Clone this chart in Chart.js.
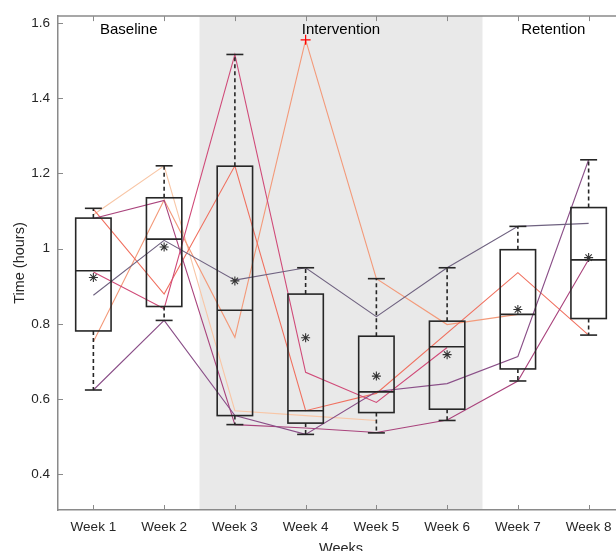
<!DOCTYPE html>
<html>
<head>
<meta charset="utf-8">
<script src="https://cdn.jsdelivr.net/npm/chart.js@4.4.0/dist/chart.umd.min.js"></script>
<style>
  html, body { margin: 0; padding: 0; background: #fff; overflow: hidden; }
  canvas { display: block; }
</style>
</head>
<body>
<canvas id="myChart" width="640" height="560"></canvas>
<script>
const weeks = ['Week 1', 'Week 2', 'Week 3', 'Week 4', 'Week 5', 'Week 6', 'Week 7', 'Week 8']
const weekPos = [1, 2, 3, 4, 5, 6, 7, 8]
const yTicks = [0.4, 0.6, 0.8, 1, 1.2, 1.4, 1.6]

// box statistics per week
const boxMin = [0.624, 0.809, 0.532, 0.506, 0.510, 0.543, 0.648, 0.770]
const boxQ1 = [0.781, 0.846, 0.556, 0.536, 0.564, 0.573, 0.680, 0.814]
const boxMedian = [0.941, 1.025, 0.836, 0.569, 0.619, 0.739, 0.825, 0.970]
const boxQ3 = [1.081, 1.135, 1.219, 0.879, 0.767, 0.807, 0.997, 1.109]
const boxMax = [1.107, 1.220, 1.516, 0.949, 0.920, 0.949, 1.059, 1.236]
const meanVals = [0.923, 1.004, 0.914, 0.763, 0.661, 0.718, 0.838, 0.976]
const outlierWeeks = [4]
const outlierVals = [1.555]

// individual subjects
const subj1 = [0.876, 1.022, 0.916, 0.949, 0.819, 0.949, 1.059, 1.067]
const subj2 = [0.624, 0.809, 0.556, 0.506, 0.620, 0.641, 0.713, 1.236]
const subj3 = [1.080, 1.128, 0.532, 0.523, 0.511, 0.544, 0.648, 0.971]
const subj4 = [0.938, 0.840, 1.516, 0.671, 0.591, 0.737, null, null]
const subj5 = [1.105, 0.879, 1.220, 0.569, 0.615, null, 0.936, 0.770]
const subj6 = [0.752, 1.129, 0.764, 1.555, 0.920, 0.798, 0.825, null]
const subj7 = [1.090, 1.220, 0.569, 0.556, 0.543, null, null, null]
const subjects = [subj1, subj2, subj3, subj4, subj5, subj6, subj7]
const subjColors = ['#6f6280', '#8a4f88', '#a9437c', '#d04a78', '#f0705f', '#f39a7a', '#f8c6a6']

// study phases
const phaseNames = ['Baseline', 'Intervention', 'Retention']
const phaseCenters = [1.5, 4.5, 7.5]
const shadeFrom = 2.5
const shadeTo = 6.5
const phaseLabelY = 1.582

const FONT = '"Liberation Sans", Arial, Helvetica, sans-serif'
const boxHalf = 0.25
const capHalf = 0.12
const axisColor = '#8a8a8a'

const meanIndex = subjects.length

const shadePlugin = {
    id: 'shade',
    beforeDraw(chart) {
        const { ctx, chartArea, scales: { x } } = chart
        ctx.save()
        ctx.fillStyle = '#e9e9e9'
        const x0 = x.getPixelForValue(shadeFrom)
        const x1 = x.getPixelForValue(shadeTo)
        ctx.fillRect(x0, chartArea.top, x1 - x0, chartArea.bottom - chartArea.top)
        ctx.restore()
    }
}

const boxPlugin = {
    id: 'boxes',
    beforeDatasetDraw(chart, args) {
        if (args.index !== meanIndex) return
        const { ctx, scales: { x, y } } = chart
        const seg = (x0, y0, x1, y1) => {
            ctx.beginPath()
            ctx.moveTo(x0, y0)
            ctx.lineTo(x1, y1)
            ctx.stroke()
        }
        ctx.save()
        ctx.strokeStyle = '#262626'
        ctx.lineWidth = 1.6
        weekPos.forEach((w, i) => {
            const xc = x.getPixelForValue(w)
            const xl = x.getPixelForValue(w - boxHalf)
            const xr = x.getPixelForValue(w + boxHalf)
            const cl = x.getPixelForValue(w - capHalf)
            const cr = x.getPixelForValue(w + capHalf)
            const yMin = y.getPixelForValue(boxMin[i])
            const yQ1 = y.getPixelForValue(boxQ1[i])
            const yMed = y.getPixelForValue(boxMedian[i])
            const yQ3 = y.getPixelForValue(boxQ3[i])
            const yMax = y.getPixelForValue(boxMax[i])

            ctx.setLineDash([4, 3])
            seg(xc, yQ3, xc, yMax)
            seg(xc, yQ1, xc, yMin)
            ctx.setLineDash([])
            seg(cl, yMax, cr, yMax)
            seg(cl, yMin, cr, yMin)
            ctx.strokeRect(xl, yQ3, xr - xl, yQ1 - yQ3)
            seg(xl, yMed, xr, yMed)
        })
        ctx.restore()
    }
}

const framePlugin = {
    id: 'frame',
    afterDraw(chart) {
        const { ctx, chartArea, scales: { x, y } } = chart
        ctx.save()
        // phase labels
        ctx.fillStyle = '#000'
        ctx.font = '15px ' + FONT
        ctx.textAlign = 'center'
        ctx.textBaseline = 'middle'
        phaseNames.forEach((name, i) => {
            ctx.fillText(name, x.getPixelForValue(phaseCenters[i]), y.getPixelForValue(phaseLabelY))
        })
        // top border + inward ticks
        ctx.strokeStyle = axisColor
        ctx.lineWidth = 1.5
        ctx.beginPath()
        ctx.moveTo(chartArea.left, chartArea.top)
        ctx.lineTo(chartArea.right, chartArea.top)
        ctx.stroke()
        ctx.lineWidth = 1
        weekPos.forEach(w => {
            const px = Math.round(x.getPixelForValue(w)) + 0.5
            ctx.beginPath()
            ctx.moveTo(px, chartArea.bottom)
            ctx.lineTo(px, chartArea.bottom - 5)
            ctx.moveTo(px, chartArea.top)
            ctx.lineTo(px, chartArea.top + 5)
            ctx.stroke()
        })
        yTicks.forEach(v => {
            const py = Math.round(y.getPixelForValue(v)) + 0.5
            ctx.beginPath()
            ctx.moveTo(chartArea.left, py)
            ctx.lineTo(chartArea.left + 5, py)
            ctx.stroke()
        })
        ctx.restore()
    }
}

const datasets = subjects.map((s, k) => ({
    type: 'line',
    data: s.map((v, i) => ({ x: weekPos[i], y: v })),
    borderColor: subjColors[k],
    borderWidth: 1.1,
    pointRadius: 0,
    spanGaps: true,
    fill: false,
    tension: 0
}))

datasets.push({
    type: 'scatter',
    data: meanVals.map((v, i) => ({ x: weekPos[i], y: v })),
    pointStyle: 'star',
    pointRadius: 4.5,
    borderColor: '#333',
    backgroundColor: '#333',
    borderWidth: 1.1,
    order: -1
})

datasets.push({
    type: 'scatter',
    data: outlierVals.map((v, i) => ({ x: outlierWeeks[i], y: v })),
    pointStyle: 'cross',
    pointRadius: 5,
    borderColor: '#ff0000',
    borderWidth: 1.2,
    order: -2
})

const el = document.getElementById('myChart')
new Chart(el, {
    data: { datasets: datasets },
    options: {
        responsive: false,
        animation: false,
        devicePixelRatio: 1,
        events: [],
        layout: { padding: { top: 12, right: 16, left: 0, bottom: 0 } },
        plugins: {
            legend: { display: false },
            tooltip: { enabled: false }
        },
        scales: {
            x: {
                type: 'linear',
                min: 0.5,
                max: 8.5,
                afterBuildTicks: (scale) => { scale.ticks = weekPos.map(v => ({ value: v })) },
                afterFit: (scale) => { scale.height = 50 },
                ticks: {
                    callback: (v) => weeks[v - 1],
                    color: '#262626',
                    font: { family: FONT, size: 13.5 },
                    padding: 9,
                    maxRotation: 0,
                    autoSkip: false
                },
                grid: { display: false, drawTicks: false },
                border: { display: true, color: axisColor, width: 1.5 },
                title: {
                    display: true,
                    text: 'Weeks',
                    color: '#262626',
                    font: { family: FONT, size: 14.5 },
                    padding: { top: 0, bottom: 2 }
                }
            },
            y: {
                type: 'linear',
                min: 0.305,
                max: 1.618,
                afterBuildTicks: (scale) => { scale.ticks = yTicks.map(v => ({ value: v })) },
                afterFit: (scale) => { scale.width = 58 },
                ticks: {
                    callback: (v) => String(v),
                    color: '#262626',
                    font: { family: FONT, size: 13.5 },
                    padding: 8
                },
                grid: { display: false, drawTicks: false },
                border: { display: true, color: axisColor, width: 1.5 },
                title: {
                    display: true,
                    text: 'Time (hours)',
                    color: '#262626',
                    font: { family: FONT, size: 14.5 },
                    padding: { top: 11, bottom: 0 }
                }
            }
        }
    },
    plugins: [shadePlugin, boxPlugin, framePlugin]
})
</script>
</body>
</html>
